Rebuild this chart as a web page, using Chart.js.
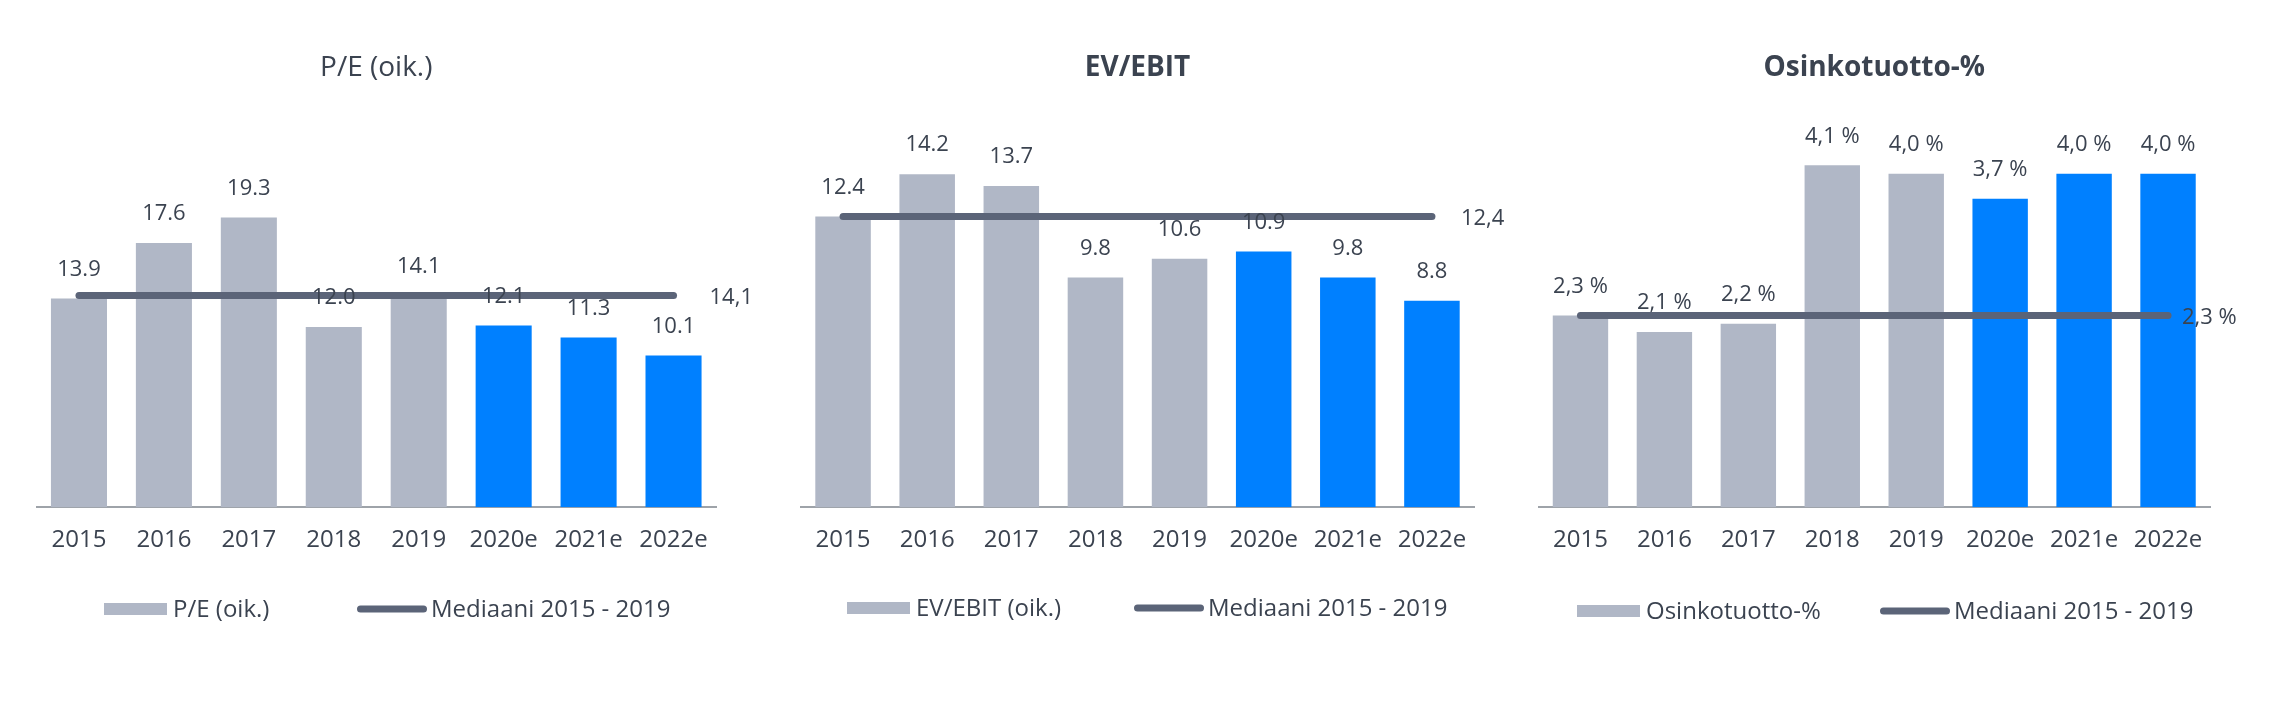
<!DOCTYPE html>
<html lang="fi">
<head>
<meta charset="UTF-8">
<title>P/E, EV/EBIT ja osinkotuotto</title>
<script src="https://cdn.jsdelivr.net/npm/chart.js"></script>
<style>
  body { margin: 0; background: #fff; width: 2278px; height: 710px; overflow: hidden; position: relative; }
  .panel { position: absolute; top: 0; height: 710px; }
</style>
</head>
<body>
<div class="panel" style="left:0;width:760px"><canvas id="peChart"></canvas></div>
<div class="panel" style="left:760px;width:760px"><canvas id="evChart"></canvas></div>
<div class="panel" style="left:1520px;width:758px"><canvas id="divChart"></canvas></div>

<script>
// data
const years = ['2015', '2016', '2017', '2018', '2019', '2020e', '2021e', '2022e'];
const peValues = [13.9, 17.6, 19.3, 12.0, 14.1, 12.1, 11.3, 10.1];
const peMedian = 14.1;
const evEbitValues = [12.4, 14.2, 13.7, 9.8, 10.6, 10.9, 9.8, 8.8];
const evEbitMedian = 12.4;
const dividendValues = [2.3, 2.1, 2.2, 4.1, 4.0, 3.7, 4.0, 4.0];
const dividendMedian = 2.3;
const medianName = 'Mediaani 2015 - 2019';

const GREY = '#b0b7c6';
const BLUE = '#0080ff';
const LINE = '#5b6478';
const TEXT = '#3b4350';
const FONT = '"Open Sans", "Noto Sans", sans-serif';

const comma = (v, d) => v.toFixed(d).replace('.', ',');

// value labels above bars + median value at the end of the line
const valueLabels = {
    id: 'valueLabels',
    afterDatasetsDraw(chart, args, opts) {
        const ctx = chart.ctx;
        ctx.save();
        ctx.font = '22px ' + FONT;
        ctx.fillStyle = TEXT;
        ctx.textAlign = 'center';
        ctx.textBaseline = 'middle';
        const bars = chart.getDatasetMeta(0).data;
        bars.forEach((bar, i) => {
            ctx.fillText(opts.format(chart.data.datasets[0].data[i]), bar.x, bar.y - 29);
        });
        const pts = chart.getDatasetMeta(1).data;
        const last = pts[pts.length - 1];
        ctx.textAlign = 'left';
        ctx.fillText(opts.medianText, last.x + opts.medianOffset, last.y + 2);
        ctx.restore();
    }
};

// legend: grey box for the bars, thick rounded line for the median
const boxLegend = {
    id: 'boxLegend',
    afterDraw(chart, args, opts) {
        const ctx = chart.ctx;
        const ds = chart.data.datasets;
        const y = opts.y;
        ctx.save();
        ctx.font = '24px ' + FONT;
        ctx.textAlign = 'left';
        ctx.textBaseline = 'middle';

        let x = opts.x[0];
        ctx.fillStyle = GREY;
        ctx.fillRect(x, y - 6, 63, 12);
        ctx.fillStyle = TEXT;
        ctx.fillText(ds[0].label, x + 69, y + 1);

        x = opts.x[1];
        ctx.strokeStyle = LINE;
        ctx.lineWidth = 7;
        ctx.lineCap = 'round';
        ctx.beginPath();
        ctx.moveTo(x + 3.5, y);
        ctx.lineTo(x + 66.5, y);
        ctx.stroke();
        ctx.fillText(ds[1].label, x + 74, y + 1);
        ctx.restore();
    }
};

function makeChart(id, cfg) {
    const colors = years.map(y => y.endsWith('e') ? BLUE : GREY);
    new Chart(document.getElementById(id), {
        data: {
            labels: years,
            datasets: [
                {
                    type: 'bar',
                    label: cfg.barLabel,
                    data: cfg.values,
                    backgroundColor: colors,
                    categoryPercentage: 1,
                    barPercentage: 0.66,
                    order: 1
                },
                {
                    type: 'line',
                    label: medianName,
                    data: years.map(() => cfg.median),
                    borderColor: LINE,
                    backgroundColor: LINE,
                    borderWidth: 7,
                    borderCapStyle: 'round',
                    pointRadius: 0,
                    order: 0
                }
            ]
        },
        options: {
            responsive: true,
            maintainAspectRatio: false,
            animation: false,
            layout: { padding: { left: cfg.padLeft, right: cfg.padRight, top: 0, bottom: 136 } },
            scales: {
                x: {
                    grid: { display: false, drawTicks: false },
                    border: { display: true, color: '#9ea3a9', width: 2 },
                    ticks: { color: TEXT, font: { family: FONT, size: 24 }, padding: 19, autoSkip: false, maxRotation: 0 }
                },
                y: { display: false, min: 0, max: cfg.max }
            },
            plugins: {
                title: {
                    display: true,
                    text: cfg.title,
                    color: TEXT,
                    font: { family: FONT, size: 28, weight: cfg.titleWeight },
                    padding: { top: 51, bottom: 47.4 }
                },
                legend: { display: false },
                tooltip: { enabled: false },
                valueLabels: { format: cfg.format, medianText: cfg.medianText, medianOffset: cfg.medianOffset },
                boxLegend: { x: cfg.legendX, y: cfg.legendY }
            }
        },
        plugins: [valueLabels, boxLegend]
    });
}

makeChart('peChart', {
    title: 'P/E (oik.)', titleWeight: 'normal', barLabel: 'P/E (oik.)',
    values: peValues, median: peMedian, max: 25,
    format: v => v.toFixed(1), medianText: comma(peMedian, 1), medianOffset: 36,
    padLeft: 36.5, padRight: 44, legendX: [104, 357], legendY: 609
});

makeChart('evChart', {
    title: 'EV/EBIT', titleWeight: 'bold', barLabel: 'EV/EBIT (oik.)',
    values: evEbitValues, median: evEbitMedian, max: 16,
    format: v => v.toFixed(1), medianText: comma(evEbitMedian, 1), medianOffset: 29,
    padLeft: 41, padRight: 46, legendX: [87, 374], legendY: 608
});

makeChart('divChart', {
    title: 'Osinkotuotto-%', titleWeight: 'bold', barLabel: 'Osinkotuotto-%',
    values: dividendValues, median: dividendMedian, max: 4.5,
    format: v => comma(v, 1) + ' %', medianText: comma(dividendMedian, 1) + ' %', medianOffset: 14,
    padLeft: 18.5, padRight: 68, legendX: [57, 360], legendY: 611
});
</script>
</body>
</html>
